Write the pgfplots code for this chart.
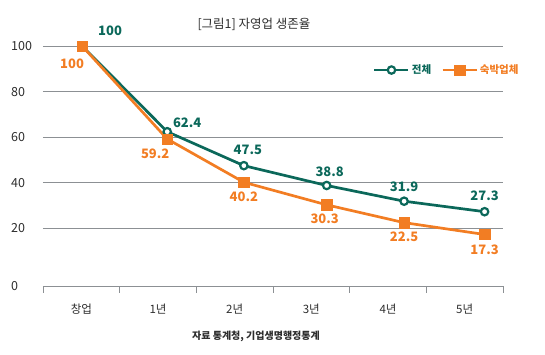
\documentclass[border=0pt]{standalone}
\usepackage{fontspec}
\setmainfont{Noto Sans CJK KR}
\usepackage{pgfplots}
\usepackage{pgfplotstable}
\pgfplotsset{compat=1.18}
\definecolor{cgreen}{RGB}{11,104,90}
\definecolor{corange}{RGB}{242,125,35}
\definecolor{cgrid}{RGB}{140,144,148}
\definecolor{ctext}{RGB}{45,45,45}

\pgfplotstableread{
x y dx dy lab
0.51 100 28 15 100
1.62 62.4 20 9 62.4
2.62 47.5 4 16 47.5
3.70 38.8 3 14 38.8
4.71 31.9 0 14 31.9
5.76 27.3 0 16 27.3
}\totaldata

\pgfplotstableread{
x y dx dy lab
0.51 100 -10 -18 100
1.62 59.2 -12 -15 59.2
2.62 40.2 0 -14 40.2
3.70 30.3 -2 -14 30.3
4.71 22.5 0 -14 22.5
5.76 17.3 0 -15 17.3
}\lodgingdata

\begin{document}
\begin{tikzpicture}
\path[use as bounding box] (-43pt,-69pt) rectangle (502pt,286pt);
\begin{axis}[
  at={(0pt,0pt)}, anchor=south west,
  scale only axis,
  width=460pt, height=251.4pt,
  xmin=0, xmax=6,
  ymin=-5.3, ymax=105,
  clip=false,
  axis lines*=left,
  axis line style={-, draw=cgrid, line width=0.8pt},
  y axis line style={draw=none},
  xtick={0,1,2,3,4,5,6},
  x tick label as interval,
  xticklabels={창업,1년,2년,3년,4년,5년},
  xticklabel style={font=\fontsize{11.5}{13}\selectfont, text=ctext, yshift=-7pt},
  x tick style={draw=cgrid, line width=0.8pt},
  tick align=outside,
  major tick length=7pt,
  ytick={20,40,60,80,100},
  y tick style={draw=none},
  yticklabel style={font=\fontsize{12.5}{14}\selectfont, text=ctext, anchor=west, inner sep=0pt, xshift=-25pt},
  extra y ticks={-5.3},
  extra y tick labels={0},
  extra y tick style={grid=none, y tick style={draw=none}},
  /pgf/number format/assume math mode=true,
  ymajorgrids,
  grid style={draw=cgrid, line width=0.8pt},
  legend style={draw=none, fill=none, at={(1.045,0.859)}, anchor=east,
    legend columns=2,
    font=\fontsize{10.5}{12}\selectfont\bfseries,
    /tikz/every even column/.append style={column sep=8pt}},
  legend image code/.code={\draw[mark repeat=2,mark phase=2,#1] plot coordinates {(0pt,0pt) (17pt,0pt) (34pt,0pt)};},
  point meta=explicit symbolic,
  nodes near coords,
]
\addplot[color=cgreen, line width=2.7pt, mark=*, mark size=3.7pt,
  mark options={fill=white, line width=2.2pt},
  visualization depends on={\thisrow{dx}\as\dx},
  visualization depends on={\thisrow{dy}\as\dy},
  every node near coord/.append style={anchor=center, xshift=\dx pt, yshift=\dy pt, text=cgreen, font=\fontsize{13}{15}\selectfont\bfseries}]
  table[x=x, y=y, meta=lab] {\totaldata};
\addlegendentry{\textcolor{cgreen}{전체}}
\addplot[color=corange, line width=2.7pt, mark=square*, mark size=5.2pt,
  mark options={fill=corange, line width=0.4pt},
  visualization depends on={\thisrow{dx}\as\dx},
  visualization depends on={\thisrow{dy}\as\dy},
  every node near coord/.append style={anchor=center, xshift=\dx pt, yshift=\dy pt, text=corange, font=\fontsize{13}{15}\selectfont\bfseries}]
  table[x=x, y=y, meta=lab] {\lodgingdata};
\addlegendentry{\textcolor{corange}{숙박업체}}
\end{axis}
\node[font=\fontsize{12.5}{14}\selectfont, text=ctext] at (211pt,262pt) {[그림1] 자영업 생존율};
\node[font=\fontsize{10}{12}\selectfont\bfseries, text=ctext] at (213pt,-50.5pt) {자료 통계청, 기업생명행정통계};
\end{tikzpicture}
\end{document}
